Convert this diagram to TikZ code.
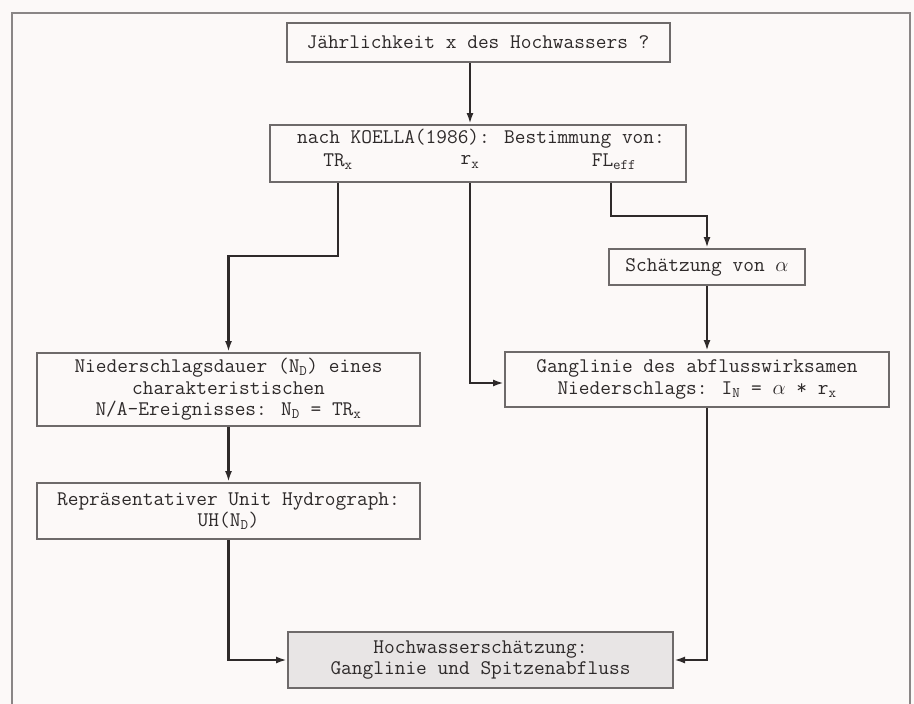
\documentclass[tikz,border=0pt]{standalone}
\usepackage{fontspec}
\usepackage{tikz}
\usetikzlibrary{arrows.meta,positioning,calc}
\definecolor{paper}{HTML}{FCF9F8}
\definecolor{ink}{HTML}{2E2A2A}
\definecolor{boxline}{HTML}{6E6A6A}
\definecolor{framegray}{HTML}{8A8686}
\definecolor{resultfill}{HTML}{E8E5E5}
\def\BoxWidth{383pt}
\def\LineGap{21.5}
\tikzset{
	flowtext/.style={font=\ttfamily\fontsize{20.8}{\LineGap}\selectfont, text=ink, align=center},
	flowbox/.style={flowtext, draw=boxline, line width=2pt, inner sep=3pt},
	flowline/.style={draw=ink, line width=2.4pt, -{Latex[length=11pt,width=7pt]}},
}

\begin{document}
\begin{tikzpicture}[x=1pt,y=-1pt]
	\useasboundingbox[fill=paper] (0,0) rectangle (914,704);
	% frame of the figure (lower edge cut off)
	\draw[framegray, line width=1.6pt] (12,704) -- (12,13) -- (910,13) -- (910,704);
	%
	\node[flowbox, minimum width=\BoxWidth, minimum height=39pt] at (478,42.5) (jahr) {J\"ahrlichkeit x des Hochwassers ?};
	\node[flowbox, below=61pt of jahr, minimum width=416pt, minimum height=57pt] (koella) {};
	\node[flowtext] at (481,139) (koellahead) {nach KOELLA(1986): Bestimmung von:};
	\node[flowtext] at (338,162) (trx) {TR\textsubscript{x}};
	\node[flowtext] at (470,162) (rx) {r\textsubscript{x}};
	\node[flowtext] at (614,162) (fl) {FL\textsubscript{eff}};
	%
	\node[flowbox, minimum width=\BoxWidth, minimum height=73pt] at (228.5,389.5) (nieder) {Niederschlagsdauer (N\textsubscript{D}) eines\\charakteristischen\\N/A-Ereignisses: N\textsubscript{D} = TR\textsubscript{x}};
	\node[flowbox, below=55pt of nieder, minimum width=\BoxWidth, minimum height=56pt] (repr) {Repr\"asentativer Unit Hydrograph:\\UH(N\textsubscript{D})};
	%
	\node[flowbox, minimum width=384pt, minimum height=55pt] at (697,379.5) (gangl) {Ganglinie des abflusswirksamen\\Niederschlags: I\textsubscript{N} = $\alpha$ * r\textsubscript{x}};
	\node[flowbox, above=65pt of gangl, xshift=10pt, minimum width=196pt, minimum height=36pt] (schaetz) {Sch\"atzung von $\alpha$};
	%
	\node[flowbox, fill=resultfill, minimum width=385pt, minimum height=56pt] at (480.5,660) (hw) {Hochwassersch\"atzung:\\Ganglinie und Spitzenabfluss};
	%
	\draw[flowline] (rx |- jahr.south) -- (rx |- koella.north);
	\draw[flowline] (trx |- koella.south) -- ++(0,73) -| (nieder.north);
	\draw[flowline] (rx |- koella.south) |- ($(gangl.west)+(0,3.5)$);
	\draw[flowline] ($(fl |- koella.south)+(-3,0)$) -- ++(0,33) -| (schaetz.north);
	\draw[flowline] (schaetz.south) -- (schaetz.south |- gangl.north);
	\draw[flowline] (nieder.south) -- (repr.north);
	\draw[flowline] (repr.south) |- (hw.west);
	\draw[flowline] (schaetz.south |- gangl.south) |- (hw.east);
\end{tikzpicture}
\end{document}
